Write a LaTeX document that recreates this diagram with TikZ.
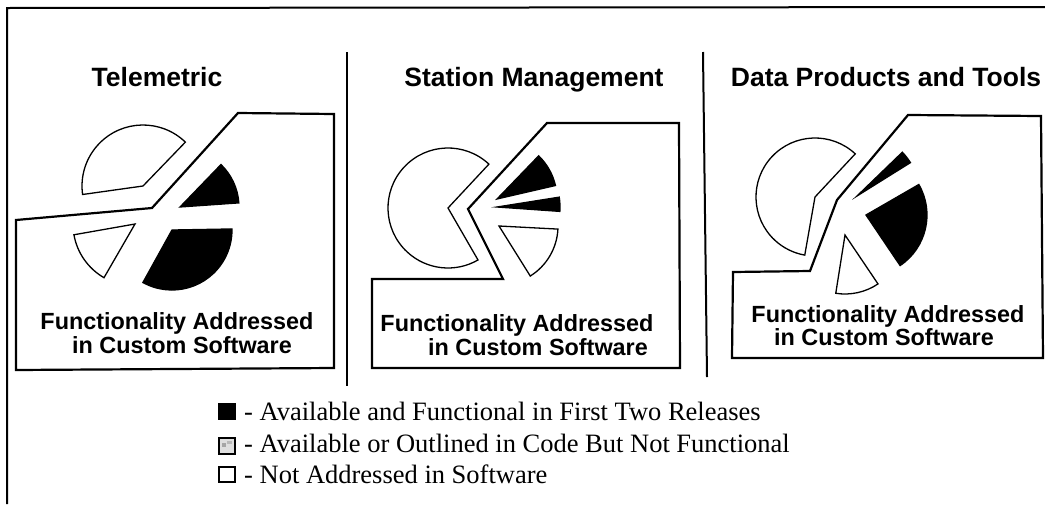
\documentclass[tikz,border=0pt]{standalone}
\usepackage{fontspec}
\setmainfont{Liberation Serif}
\setsansfont{Liberation Sans}
\newcommand\pieslice[7]{%
  \draw[slice,#7] (#1,#2) -- ++({-(#3)}:#5) arc[start angle={-(#3)}, end angle={-(#4)}, radius=#5] -- cycle;}
\begin{document}
\begin{tikzpicture}[x=1pt,y=-1pt,
  slice/.style={line width=1.3pt, line join=miter},
  wfill/.style={fill=white},
  bfill/.style={fill=black},
  region/.style={line width=2.2pt, line join=miter},
  frame/.style={line width=2pt},
  divider/.style={line width=2pt},
  title/.style={font=\sffamily\bfseries\fontsize{26.5}{28}\selectfont, inner sep=0pt, anchor=base},
  boxtext/.style={font=\sffamily\bfseries\fontsize{23.4}{25}\selectfont, inner sep=0pt, anchor=base},
  legtext/.style={font=\fontsize{26.5}{28}\selectfont, inner sep=0pt, anchor=base west},
  legbox/.style={line width=1.2pt}]
\useasboundingbox (0,0) rectangle (1045,504);
\fill[white] (0,0) rectangle (1045,504);
% outer frame (only top and left visible)
\draw[frame] (7,504) -- (7,8) -- (1045,7);
% dividers
\draw[divider] (347,52) -- (347,386);
\draw[divider] (703,52) -- (707,377);
% titles
\node[title] (t1) at (157,86) {Telemetric};
\node[title] (t2) at (534,86) {Station Management};
\node[title] (t3) at (886,86) {Data Products and Tools};
% custom-software regions
\draw[region] (16,220) -- (152,208) -- (238,113) -- (334,114) -- (334,368) -- (16,370) -- cycle;
\draw[region] (372,279) -- (503,279) -- (468,209) -- (547,123) -- (679,123) -- (680,368) -- (372,368) -- cycle;
\draw[region] (733,272) -- (810,271) -- (837,200) -- (908,115) -- (1041,116) -- (1043,358) -- (732,358) -- cycle;
% Telemetric pie
\pieslice{143}{186}{46}{188}{61}{}{wfill}
\pieslice{135}{224}{190}{240}{62}{}{wfill}
\pieslice{172}{230}{-119}{1}{60}{}{bfill}
\pieslice{180}{207}{4}{46}{59}{}{bfill}
% Station Management pie
\pieslice{448}{208}{47}{300}{60}{}{wfill}
\pieslice{497}{199}{13}{46}{60}{}{bfill}
\pieslice{497}{207}{-4}{9}{63}{}{bfill}
\pieslice{499}{226}{-58}{-3}{59}{}{wfill}
% Data Products pie
\pieslice{815}{197}{47}{260}{59}{}{wfill}
\pieslice{857}{196}{32}{44}{63}{}{bfill}
\pieslice{866}{215}{-56}{30}{61}{}{bfill}
\pieslice{845}{235}{261}{304}{59}{}{wfill}
% box texts
\node[boxtext] (a1) at (177,329) {Functionality Addressed};
\node[boxtext] (b1) at (182,353) {in Custom Software};
\node[boxtext] (a2) at (517,331) {Functionality Addressed};
\node[boxtext] (b2) at (538,355) {in Custom Software};
\node[boxtext] (a3) at (888,322) {Functionality Addressed};
\node[boxtext] (b3) at (884,345) {in Custom Software};
% legend
\draw[legbox, fill=black] (219,404) rectangle (235,419);
\draw[legbox, fill=gray!25] (219,438) rectangle (235,454);
\fill[gray!70] (222,443) rectangle (226,447);
\fill[gray!55] (227,441) rectangle (232,444);
\draw[legbox, fill=white] (219,467) rectangle (235,482);
\node[legtext] (l1) at (244,420) {- Available and Functional in First Two Releases};
\node[legtext] (l2) at (244,452) {- Available or Outlined in Code But Not Functional};
\node[legtext] (l3) at (244,483) {- Not Addressed in Software};
\end{tikzpicture}
\end{document}
